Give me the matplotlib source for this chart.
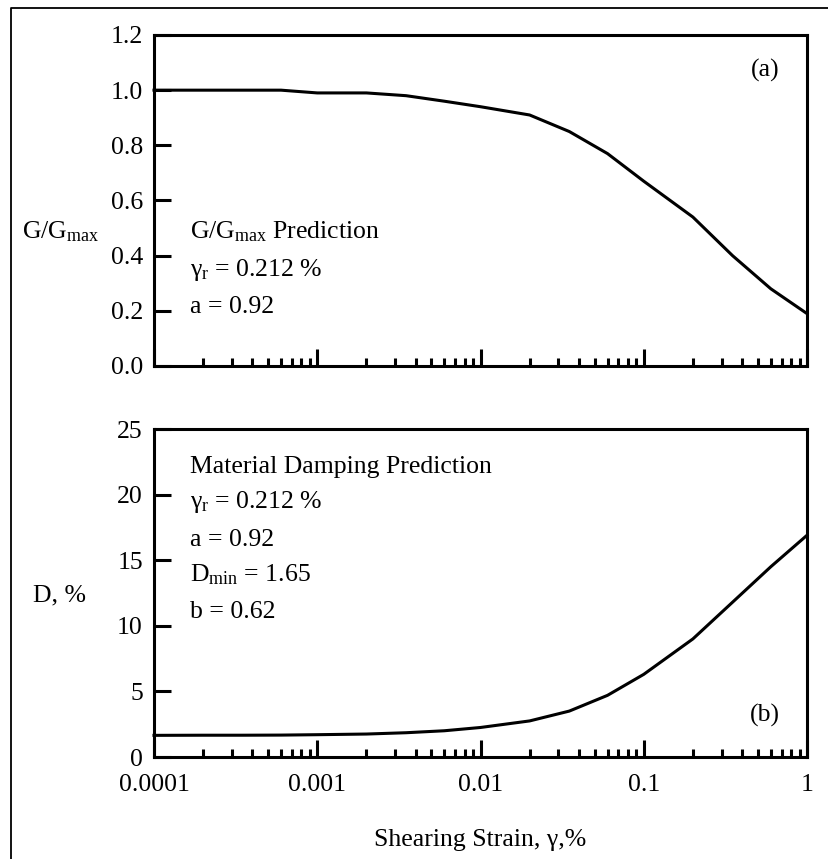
import matplotlib
matplotlib.use("Agg")
import matplotlib.pyplot as plt
from matplotlib.lines import Line2D
from matplotlib.ticker import LogLocator, NullFormatter, FixedLocator

plt.rcParams['font.family'] = ['Liberation Serif', 'DejaVu Serif']
plt.rcParams['mathtext.fontset'] = 'custom'
plt.rcParams['mathtext.rm'] = 'Liberation Serif'
plt.rcParams['mathtext.it'] = 'Liberation Serif:italic'

strain = [0.0001, 0.0002, 0.00035, 0.0006, 0.001, 0.002, 0.0035, 0.006, 0.01,
          0.02, 0.035, 0.06, 0.1, 0.2, 0.35, 0.6, 1.0]
g_ratio = [1.0, 1.0, 1.0, 1.0, 0.99, 0.99, 0.98, 0.96, 0.94,
           0.91, 0.85, 0.77, 0.67, 0.54, 0.40, 0.28, 0.19]
damping = [1.65, 1.66, 1.66, 1.67, 1.70, 1.75, 1.85, 2.0, 2.25,
           2.75, 3.5, 4.7, 6.3, 9.0, 11.8, 14.5, 16.9]

x_ticks = [0.0001, 0.001, 0.01, 0.1, 1]
x_labels = ['0.0001', '0.001', '0.01', '0.1', '1']
g_ticks = [0.0, 0.2, 0.4, 0.6, 0.8, 1.0, 1.2]
g_labels = ['0.0', '0.2', '0.4', '0.6', '0.8', '1.0', '1.2']
d_ticks = [0, 5, 10, 15, 20, 25]
d_labels = ['0', '5', '10', '15', '20', '25']

W, H = 829, 859
fig = plt.figure(figsize=(W / 100, H / 100), dpi=100)

def px_axes(l, t, r, b):
    return fig.add_axes([l / W, 1 - b / H, (r - l) / W, (b - t) / H])

ax1 = px_axes(154, 35, 807, 366)
ax2 = px_axes(154, 429, 807, 757)

fs = 18.5
lw = 2.2
for ax in (ax1, ax2):
    ax.set_xscale('log')
    ax.set_xlim(0.0001, 1)
    for s in ax.spines.values():
        s.set_linewidth(lw)
    ax.xaxis.set_major_locator(FixedLocator(x_ticks))
    ax.xaxis.set_minor_locator(LogLocator(base=10, subs=range(2, 10), numticks=20))
    ax.xaxis.set_minor_formatter(NullFormatter())
    ax.tick_params(axis='x', which='major', direction='in', length=12, width=lw,
                   top=False, labelsize=fs, pad=12)
    ax.tick_params(axis='x', which='minor', direction='in', length=6, width=lw, top=False)
    ax.tick_params(axis='y', which='major', direction='in', length=12, width=lw,
                   right=False, labelsize=fs, pad=8)

ax1.plot(strain, g_ratio, color='black', lw=2.2, clip_on=False, zorder=3)
ax1.set_ylim(0, 1.2)
ax1.set_yticks(g_ticks)
ax1.set_yticklabels(g_labels)
ax1.set_xticklabels([])

ax2.plot(strain, damping, color='black', lw=2.2, clip_on=False, zorder=3)
ax2.set_ylim(0, 25)
ax2.set_yticks(d_ticks)
ax2.set_yticklabels(d_labels)
ax2.set_xticklabels(x_labels)

# axis labels (horizontal)
fig.text(22 / W, 1 - 232 / H, r'G/G$_{\rm max}$', fontsize=fs, ha='left', va='center')
fig.text(33 / W, 1 - 595 / H, 'D, %', fontsize=fs, ha='left', va='center')
fig.text(480 / W, 1 - 840 / H, 'Shearing Strain, γ,%', fontsize=fs, ha='center', va='center')

# annotations top
tx = 190 / W
for txt, y in [(r'G/G$_{\rm max}$ Prediction', 232), (r'γ$_{\rm r}$ = 0.212 %', 270),
               ('a = 0.92', 307)]:
    fig.text(tx, 1 - y / H, txt, fontsize=fs, ha='left', va='center')
for txt, y in [('Material Damping Prediction', 467), (r'γ$_{\rm r}$ = 0.212 %', 502),
               ('a = 0.92', 540), (r'D$_{\rm min}$ = 1.65', 575), ('b = 0.62', 612)]:
    fig.text(tx, 1 - y / H, txt, fontsize=fs, ha='left', va='center')

fig.text(765 / W, 1 - 70 / H, '(a)', fontsize=fs, ha='center', va='center')
fig.text(765 / W, 1 - 715 / H, '(b)', fontsize=fs, ha='center', va='center')

# outer frame (cropped on right and bottom)
fig.add_artist(Line2D([11 / W, 11 / W, 1.0], [0.0, 1 - 8 / H, 1 - 8 / H],
                      transform=fig.transFigure, color='black', lw=1.3))

fig.savefig('out.png', dpi=100)
